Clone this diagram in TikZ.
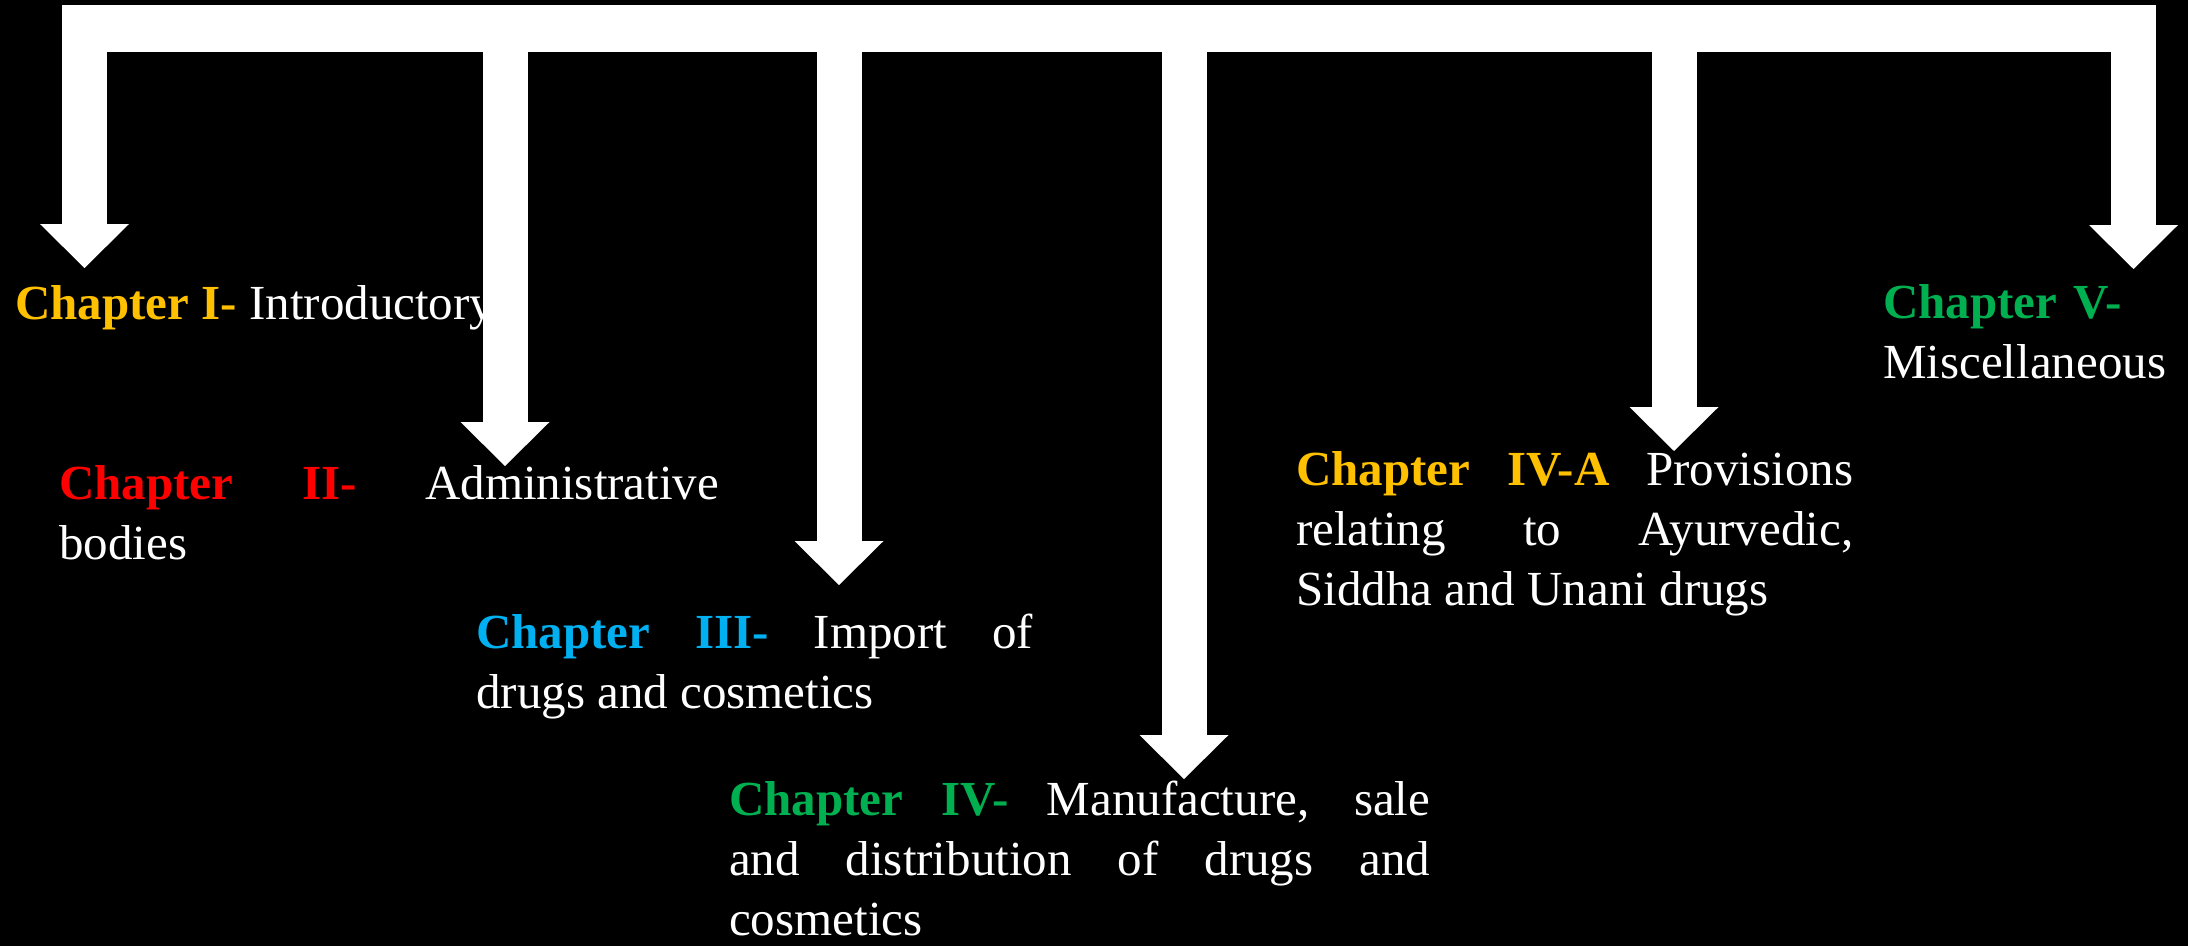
\documentclass[tikz,border=0pt]{standalone}
\usepackage{fontspec}
\setmainfont{Liberation Serif}
\usetikzlibrary{arrows.meta}

\definecolor{chapgold}{HTML}{FFC000}
\definecolor{chapred}{HTML}{FF0000}
\definecolor{chapblue}{HTML}{00B0F0}
\definecolor{chapgreen}{HTML}{00B050}
\newcommand{\chap}[2]{\textbf{\color{#1}#2}}
\hyphenpenalty=10000
\tolerance=10000

\begin{document}
\begin{tikzpicture}[x=1pt, y=-1pt]
    \fill[black] (0,0) rectangle (2188,946);
    \useasboundingbox (0,0) rectangle (2188,946);

    \begin{scope}[every node/.style={anchor=base west, inner sep=0pt, text=white, font=\fontsize{49}{60}\selectfont}]
        \node (ch1) at (15,319) {\chap{chapgold}{Chapter I-} Introductory};
        \node (ch2) [text width=660pt, align=justify] at (59,499) {\chap{chapred}{Chapter II-} Administrative\linebreak bodies};
        \node (ch3) [text width=557pt, align=justify] at (476,648) {\chap{chapblue}{Chapter III-} Import of\linebreak drugs and cosmetics};
        \node (ch4) [text width=701pt, align=justify] at (729,815) {\chap{chapgreen}{Chapter IV-} Manufacture, sale\linebreak and distribution of drugs and\linebreak cosmetics};
        \node (ch4a) [text width=557pt, align=justify] at (1296,485) {\chap{chapgold}{Chapter IV-A} Provisions\linebreak relating to Ayurvedic,\linebreak Siddha and Unani drugs};
        \node (ch5) [text width=300pt, align=left] at (1883,318) {\chap{chapgreen}{Chapter V-}\\Miscellaneous};
    \end{scope}

    \node (bar) [fill=white, inner sep=0pt, minimum width=2094pt, minimum height=47pt] at (1109,28.5) {};

    \coordinate (t1) at (84.5,268);
    \coordinate (t2) at (505,466);
    \coordinate (t3) at (839,585);
    \coordinate (t4) at (1184,779);
    \coordinate (t4a) at (1674,451);
    \coordinate (t5) at (2133.5,269);

    \begin{scope}[every edge/.style={draw, white, line width=45pt, -{Triangle[width=89pt, length=44pt, line width=0pt]}}]
        \path (bar.center -| t1) edge (t1);
        \path (bar.center -| t2) edge (t2);
        \path (bar.center -| t3) edge (t3);
        \path (bar.center -| t4) edge (t4);
        \path (bar.center -| t4a) edge (t4a);
        \path (bar.center -| t5) edge (t5);
    \end{scope}
\end{tikzpicture}
\end{document}
